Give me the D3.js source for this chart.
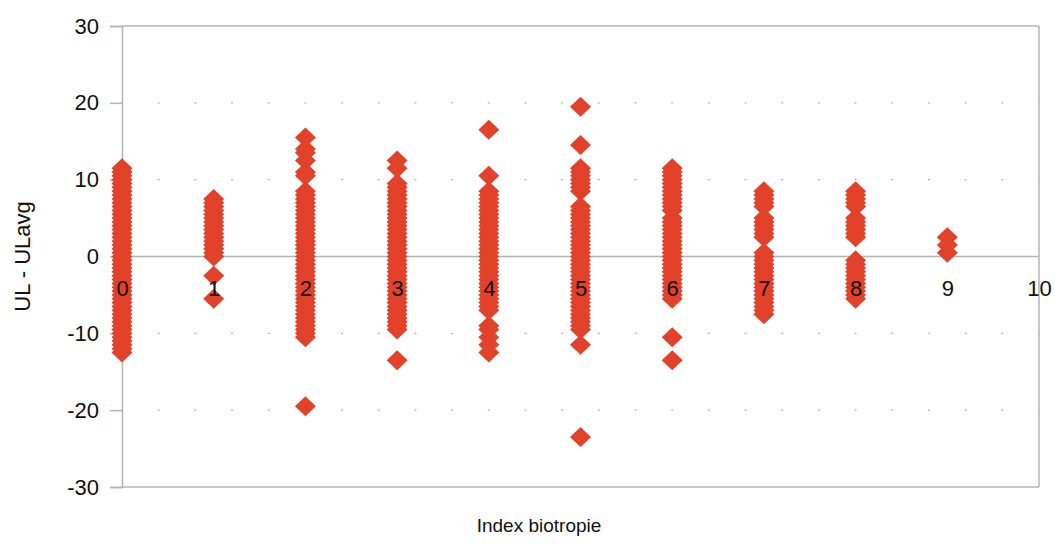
<!DOCTYPE html>
<html>
<head>
<meta charset="utf-8">
<script src="https://cdn.jsdelivr.net/npm/d3@7"></script>
<style>
  html, body { margin: 0; padding: 0; background: #ffffff; }
  svg { display: block; font-family: "Liberation Sans", Arial, Helvetica, sans-serif; }
</style>
</head>
<body>
<svg id="chart" width="1055" height="547"></svg>
<script>
// Biotropy index (x) and UL - ULavg deviations (y) for each index value
const biotropyIndex = [0, 1, 2, 3, 4, 5, 6, 7, 8, 9];

const dev0 = [11.5, 11, 10.5, 10, 9.5, 9, 8.5, 8, 7.5, 7, 6.5, 6, 5.5, 5, 4.5, 4, 3.5, 3, 2.5, 2, 1.5, 1, 0.5, 0,
  -0.5, -1, -1.5, -2, -2.5, -3, -3.5, -4, -4.5, -5, -5.5, -6, -6.5, -7, -7.5, -8, -8.5, -9, -9.5, -10, -10.5, -11, -11.5, -12, -12.5];
const dev1 = [7.5, 7, 6.5, 6, 5.5, 5, 4.5, 4, 3.5, 3, 2.5, 2, 1.5, 1, 0.5, 0, -2.5, -5.5];
const dev2 = [15.5, 14, 13.5, 12.5, 11, 10.5, 8.5, 8, 7.5, 7, 6.5, 6, 5.5, 5, 4.5, 4, 3.5, 3, 2.5, 2, 1.5, 1, 0.5, 0,
  -0.5, -1, -1.5, -2, -2.5, -3, -3.5, -4, -4.5, -5, -5.5, -6, -6.5, -7, -7.5, -8, -8.5, -9, -9.5, -10, -10.5, -19.5];
const dev3 = [12.5, 11.5, 9.5, 9, 8.5, 8, 7.5, 7, 6.5, 6, 5.5, 5, 4.5, 4, 3.5, 3, 2.5, 2, 1.5, 1, 0.5, 0,
  -0.5, -1, -1.5, -2, -2.5, -3, -3.5, -4, -4.5, -5, -5.5, -6, -6.5, -7, -7.5, -8, -8.5, -9, -9.5, -13.5];
const dev4 = [16.5, 10.5, 8.5, 8, 7.5, 7, 6.5, 6, 5.5, 5, 4.5, 4, 3.5, 3, 2.5, 2, 1.5, 1, 0.5, 0,
  -0.5, -1, -1.5, -2, -2.5, -3, -3.5, -4, -4.5, -5, -5.5, -6, -6.5, -7, -9, -9.5, -10.5, -11.5, -12.5];
const dev5 = [19.5, 14.5, 11.5, 11, 10.5, 10, 9.5, 9, 8.5, 6.5, 6, 5.5, 5, 4.5, 4, 3.5, 3, 2.5, 2, 1.5, 1, 0.5, 0,
  -0.5, -1, -1.5, -2, -2.5, -3, -3.5, -4, -4.5, -5, -5.5, -6, -6.5, -7, -7.5, -8, -8.5, -9, -9.5, -11.5, -23.5];
const dev6 = [11.5, 11, 10.5, 10, 9.5, 9, 8.5, 8, 7.5, 7, 6.5, 6, 5, 4.5, 4, 3.5, 3, 2.5, 2, 1.5, 1, 0.5, 0,
  -0.5, -1, -1.5, -2, -2.5, -3, -3.5, -4, -4.5, -5, -5.5, -10.5, -13.5];
const dev7 = [8.5, 8, 7.5, 7, 6.5, 5, 4.5, 4, 3.5, 3, 2.5, 0.5, 0,
  -0.5, -1, -1.5, -2, -2.5, -3, -3.5, -4, -4.5, -5, -5.5, -6, -6.5, -7, -7.5];
const dev8 = [8.5, 8, 7.5, 7, 6.5, 5, 4.5, 4, 3.5, 3, 2.5, -0.5, -1, -1.5, -2, -2.5, -3, -3.5, -4, -4.5, -5, -5.5];
const dev9 = [2.5, 1.5, 0.5];

const deviations = [dev0, dev1, dev2, dev3, dev4, dev5, dev6, dev7, dev8, dev9];

const xTicks = [0, 1, 2, 3, 4, 5, 6, 7, 8, 9, 10];
const yTicks = [-30, -20, -10, 0, 10, 20, 30];
const xTitle = "Index biotropie";
const yTitle = "UL - ULavg";

// flatten into point records
const points = [];
biotropyIndex.forEach((ix, i) => deviations[i].forEach(v => points.push({ x: ix, y: v })));

const svg = d3.select("#chart");
const plotLeft = 122, plotRight = 1039, plotTop = 26, plotBottom = 487;

const x = d3.scaleLinear().domain([0, 10]).range([plotLeft, plotRight]);
const y = d3.scaleLinear().domain([-30, 30]).range([plotBottom, plotTop]);

const gridColor = "#b4b4b4";

// dotted horizontal gridlines
const dotStep = x(0.4) - x(0);
svg.append("g").selectAll("line")
  .data(yTicks.filter(t => t !== 0 && Math.abs(t) !== 30))
  .join("line")
  .attr("x1", plotLeft - 1).attr("x2", plotRight)
  .attr("y1", d => y(d)).attr("y2", d => y(d))
  .attr("stroke", gridColor).attr("stroke-width", 1.3)
  .attr("stroke-dasharray", `2,${dotStep - 2}`);

// frame: top, bottom, right border and zero line
const frame = svg.append("g").attr("stroke", gridColor).attr("stroke-width", 1.5).attr("fill", "none");
frame.append("line").attr("x1", plotLeft).attr("x2", plotRight).attr("y1", y(30)).attr("y2", y(30));
frame.append("line").attr("x1", plotLeft).attr("x2", plotRight).attr("y1", y(-30)).attr("y2", y(-30));
frame.append("line").attr("x1", plotRight).attr("x2", plotRight).attr("y1", y(30)).attr("y2", y(-30));
frame.append("line").attr("x1", plotLeft).attr("x2", plotRight).attr("y1", y(0)).attr("y2", y(0));

// y axis with outward ticks
const yAxis = d3.axisLeft(y).tickValues(yTicks).tickSize(12).tickPadding(11).tickFormat(d3.format("d"));
const gy = svg.append("g").attr("transform", `translate(${plotLeft},0)`).call(yAxis);
gy.select(".domain").attr("stroke", gridColor).attr("stroke-width", 1.5);
gy.selectAll(".tick line").attr("stroke", gridColor).attr("stroke-width", 1.5);
gy.selectAll(".tick text")
  .attr("font-size", 22).attr("fill", "#111")
  .attr("font-family", "'Liberation Sans', Arial, sans-serif")
  .text(d => d < 0 ? "-" + Math.abs(d) : d);

// diamond markers
const diamond = "M0,-10L10.5,0L0,10L-10.5,0Z";
svg.append("g").selectAll("path")
  .data(points)
  .join("path")
  .attr("d", diamond)
  .attr("transform", d => `translate(${x(d.x)},${y(d.y)})`)
  .attr("fill", "#e2412a");

// x axis labels sit just below the zero line, over the markers
const xAxis = d3.axisBottom(x).tickValues(xTicks).tickSize(0).tickPadding(24).tickFormat(d3.format("d"));
const gx = svg.append("g").attr("transform", `translate(0,${y(0)})`).call(xAxis);
gx.select(".domain").remove();
gx.selectAll(".tick text")
  .attr("font-size", 22).attr("fill", "#111")
  .attr("font-family", "'Liberation Sans', Arial, sans-serif");

// axis titles
svg.append("text")
  .attr("x", 539).attr("y", 532)
  .attr("text-anchor", "middle")
  .attr("font-size", 19).attr("fill", "#111")
  .text(xTitle);

svg.append("text")
  .attr("transform", `translate(30,${y(0)}) rotate(-90)`)
  .attr("text-anchor", "middle")
  .attr("font-size", 22).attr("fill", "#111")
  .text(yTitle);
</script>
</body>
</html>
